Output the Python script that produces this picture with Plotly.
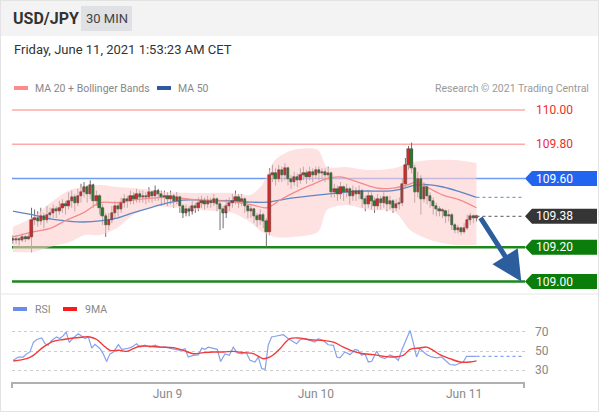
import pandas as pd
import plotly.graph_objects as go

# 30 min USD/JPY bars, first bar Jun 7 23:00
start = pd.Timestamp("2021-06-07 23:00")

opens = [109.25, 109.24, 109.25, 109.24, 109.26, 109.25, 109.26, 109.36, 109.37, 109.35,
         109.38, 109.36, 109.39, 109.40, 109.42, 109.41, 109.43, 109.45, 109.44, 109.47,
         109.49, 109.46, 109.50, 109.52, 109.55, 109.51, 109.56, 109.47, 109.50, 109.43,
         109.38, 109.33, 109.36, 109.40, 109.44, 109.42, 109.46, 109.48, 109.47, 109.50,
         109.48, 109.51, 109.49, 109.50, 109.49, 109.52, 109.50, 109.53, 109.51, 109.49,
         109.50, 109.48, 109.50, 109.47, 109.49, 109.44, 109.40, 109.42, 109.41, 109.44,
         109.43, 109.46, 109.47, 109.45, 109.47, 109.46, 109.48, 109.45, 109.42, 109.40,
         109.44, 109.46, 109.47, 109.49, 109.47, 109.48, 109.44, 109.41, 109.42, 109.38,
         109.36, 109.39, 109.35, 109.29, 109.62, 109.63, 109.60, 109.65, 109.62, 109.66,
         109.60, 109.58, 109.61, 109.59, 109.62, 109.63, 109.61, 109.64, 109.62, 109.65,
         109.63, 109.64, 109.62, 109.63, 109.52, 109.54, 109.51, 109.55, 109.52, 109.54,
         109.50, 109.53, 109.51, 109.53, 109.48, 109.45, 109.50, 109.47, 109.44, 109.48,
         109.46, 109.49, 109.45, 109.47, 109.43, 109.45, 109.46, 109.57, 109.68, 109.77,
         109.66, 109.52, 109.60, 109.48, 109.55, 109.50, 109.47, 109.44, 109.42, 109.41,
         109.41, 109.38, 109.39, 109.33, 109.30, 109.31, 109.29, 109.31, 109.36, 109.38,
         109.37]
highs = [109.27, 109.27, 109.26, 109.28, 109.27, 109.28, 109.43, 109.42, 109.41, 109.43,
         109.40, 109.44, 109.43, 109.45, 109.44, 109.47, 109.48, 109.47, 109.52, 109.53,
         109.51, 109.54, 109.57, 109.58, 109.56, 109.59, 109.57, 109.53, 109.51, 109.45,
         109.40, 109.40, 109.44, 109.47, 109.46, 109.49, 109.51, 109.50, 109.53, 109.52,
         109.54, 109.53, 109.53, 109.52, 109.55, 109.53, 109.56, 109.54, 109.53, 109.53,
         109.52, 109.53, 109.51, 109.52, 109.50, 109.45, 109.45, 109.44, 109.47, 109.46,
         109.49, 109.50, 109.49, 109.50, 109.49, 109.51, 109.49, 109.47, 109.44, 109.48,
         109.49, 109.51, 109.53, 109.51, 109.51, 109.49, 109.45, 109.45, 109.43, 109.40,
         109.42, 109.40, 109.37, 109.66, 109.68, 109.66, 109.68, 109.67, 109.69, 109.67,
         109.62, 109.64, 109.63, 109.66, 109.67, 109.65, 109.67, 109.66, 109.67, 109.67,
         109.66, 109.66, 109.67, 109.64, 109.57, 109.56, 109.58, 109.56, 109.57, 109.55,
         109.56, 109.55, 109.56, 109.54, 109.50, 109.53, 109.52, 109.49, 109.51, 109.50,
         109.52, 109.50, 109.50, 109.48, 109.48, 109.49, 109.60, 109.72, 109.79, 109.81,
         109.68, 109.64, 109.62, 109.58, 109.57, 109.52, 109.49, 109.46, 109.44, 109.43,
         109.42, 109.42, 109.40, 109.34, 109.33, 109.32, 109.34, 109.39, 109.40, 109.39,
         109.39]
lows = [109.22, 109.22, 109.21, 109.23, 109.23, 109.24, 109.17, 109.33, 109.32, 109.33,
        109.31, 109.34, 109.36, 109.37, 109.37, 109.39, 109.40, 109.39, 109.42, 109.43,
        109.41, 109.44, 109.46, 109.49, 109.46, 109.48, 109.43, 109.44, 109.39, 109.33,
        109.26, 109.30, 109.34, 109.37, 109.38, 109.40, 109.43, 109.43, 109.45, 109.45,
        109.46, 109.46, 109.46, 109.45, 109.46, 109.46, 109.47, 109.47, 109.44, 109.45,
        109.44, 109.45, 109.43, 109.45, 109.40, 109.37, 109.38, 109.38, 109.39, 109.40,
        109.41, 109.43, 109.42, 109.43, 109.43, 109.44, 109.41, 109.30, 109.31, 109.37,
        109.41, 109.43, 109.45, 109.43, 109.44, 109.40, 109.37, 109.37, 109.34, 109.32,
        109.33, 109.31, 109.20, 109.27, 109.58, 109.56, 109.58, 109.58, 109.59, 109.56,
        109.54, 109.56, 109.55, 109.57, 109.59, 109.57, 109.59, 109.58, 109.60, 109.59,
        109.60, 109.58, 109.59, 109.49, 109.49, 109.47, 109.48, 109.47, 109.49, 109.45,
        109.47, 109.47, 109.48, 109.43, 109.41, 109.43, 109.42, 109.40, 109.42, 109.42,
        109.43, 109.41, 109.42, 109.40, 109.41, 109.42, 109.44, 109.55, 109.65, 109.63,
        109.46, 109.49, 109.39, 109.46, 109.45, 109.43, 109.39, 109.38, 109.38, 109.37,
        109.34, 109.35, 109.30, 109.28, 109.28, 109.27, 109.28, 109.30, 109.33, 109.34,
        109.35]
closes = [109.24, 109.25, 109.24, 109.26, 109.25, 109.26, 109.36, 109.37, 109.35, 109.38,
          109.36, 109.39, 109.40, 109.42, 109.41, 109.43, 109.45, 109.44, 109.47, 109.49,
          109.46, 109.50, 109.52, 109.55, 109.51, 109.56, 109.47, 109.50, 109.43, 109.38,
          109.33, 109.36, 109.40, 109.44, 109.42, 109.46, 109.48, 109.47, 109.50, 109.48,
          109.51, 109.49, 109.50, 109.49, 109.52, 109.50, 109.53, 109.51, 109.49, 109.50,
          109.48, 109.50, 109.47, 109.49, 109.44, 109.40, 109.42, 109.41, 109.44, 109.43,
          109.46, 109.47, 109.45, 109.47, 109.46, 109.48, 109.45, 109.42, 109.40, 109.44,
          109.46, 109.47, 109.49, 109.47, 109.48, 109.44, 109.41, 109.42, 109.38, 109.36,
          109.39, 109.35, 109.29, 109.62, 109.63, 109.60, 109.65, 109.62, 109.66, 109.60,
          109.58, 109.61, 109.59, 109.62, 109.63, 109.61, 109.64, 109.62, 109.65, 109.63,
          109.64, 109.62, 109.63, 109.52, 109.54, 109.51, 109.55, 109.52, 109.54, 109.50,
          109.53, 109.51, 109.53, 109.48, 109.45, 109.50, 109.47, 109.44, 109.48, 109.46,
          109.49, 109.45, 109.47, 109.43, 109.45, 109.46, 109.57, 109.68, 109.77, 109.66,
          109.52, 109.60, 109.48, 109.55, 109.50, 109.47, 109.44, 109.42, 109.41, 109.41,
          109.38, 109.39, 109.33, 109.30, 109.31, 109.29, 109.31, 109.36, 109.38, 109.37,
          109.38]

# moving averages / bands, sampled at bar positions
ma20_pos = [0, 6.5, 12, 17.5, 22.7, 28.2, 33.7, 38.8, 49.8, 60.5, 71.2, 77.7, 82.2, 86.4,
            90.6, 96.1, 101.6, 105.8, 112.3, 117.8, 123, 127.5, 130.7, 134, 139.2, 144.7, 150]
ma20_val = [109.26, 109.29, 109.31, 109.36, 109.40, 109.46, 109.46, 109.475, 109.49, 109.475,
            109.465, 109.445, 109.43, 109.475, 109.515, 109.56, 109.60, 109.61, 109.575,
            109.545, 109.545, 109.563, 109.58, 109.55, 109.504, 109.475, 109.43]
ma50_pos = [0, 6.5, 12, 17.5, 22.7, 28.2, 33.7, 38.8, 44.3, 49.8, 55, 60.5, 71.2, 76.7,
            82.2, 90.6, 101.6, 112.3, 123, 130.7, 134, 139.2, 144.7, 150]
ma50_val = [109.41, 109.388, 109.365, 109.353, 109.347, 109.353, 109.37, 109.40, 109.43,
            109.457, 109.475, 109.475, 109.47, 109.463, 109.463, 109.487, 109.51, 109.527,
            109.53, 109.563, 109.565, 109.551, 109.522, 109.49]
bb_pos = [0, 6.5, 12, 18.4, 23.3, 28.2, 33.7, 38.8, 44.3, 49.8, 60.5, 71.2, 76.7, 80.6,
          84.8, 90.6, 98.7, 101.6, 107.4, 115.5, 123.6, 128.5, 135, 143, 150]
bb_upper = [109.318, 109.376, 109.458, 109.534, 109.551, 109.563, 109.551, 109.545, 109.534,
            109.522, 109.516, 109.516, 109.504, 109.563, 109.708, 109.767, 109.767, 109.668,
            109.668, 109.65, 109.662, 109.691, 109.708, 109.708, 109.691]
bb_lower = [109.172, 109.172, 109.201, 109.23, 109.271, 109.271, 109.312, 109.388, 109.434,
            109.434, 109.417, 109.40, 109.347, 109.289, 109.26, 109.26, 109.289, 109.417,
            109.446, 109.417, 109.405, 109.30, 109.242, 109.213, 109.213]

# RSI panel
rsi_pos = [0.1, 1.7, 3.3, 4.4, 5.5, 6.6, 7.7, 9.3, 10.4, 11.4, 12.5, 14.1, 15.2, 16.3, 17.2,
           18.2, 19.5, 21.1, 22.2, 23.3, 24.4, 25.5, 26.5, 28.2, 29.2, 30.3, 31.4, 32.5, 34.1,
           35.2, 36.8, 38.4, 40, 41.1, 42.7, 44.3, 46, 47.6, 49.2, 50.8, 52.4, 54, 55.7, 56.7,
           58.3, 60, 61.1, 62.1, 63.2, 64.8, 66.1, 67.2, 68.6, 70, 71.3, 72.6, 74, 75.4, 76.7,
           78.3, 79.4, 80.5, 81.6, 82.6, 83.7, 85.3, 86.4, 87.5, 89.1, 90.7, 91.8, 92.9, 94.5,
           96.1, 97.7, 98.8, 100.4, 102, 103.7, 104.8, 105.8, 107.4, 109.1, 110.7, 111.7, 112.8,
           113.9, 115, 116.1, 117.7, 118.8, 120.4, 122, 123.6, 124.7, 125.8, 127.4, 128.5,
           129.5, 130.6, 131.7, 132.8, 133.9, 135.5, 137.1, 138.7, 139.8, 141.4, 143, 144.7,
           145.7, 146.8, 148.4, 150]
rsi_val = [40.3, 43.7, 43.7, 47, 49, 59, 62, 63.5, 57.6, 56, 61, 64.6, 63, 66, 70,
           59, 63.5, 68, 65.6, 63, 64.6, 53, 57, 52.4, 47, 39, 47, 49, 56.6,
           51.7, 52.4, 54, 57.6, 54, 56, 54, 56, 54, 54, 53, 52.4, 50.7, 52.4, 43.7,
           45.5, 46, 53, 51.7, 54, 52.4, 51.7, 39, 47, 45.5, 54, 48, 47, 49, 40.3,
           38.5, 43.7, 31.6, 31, 56, 64.6, 65.6, 66, 67, 62.8, 59.3, 57.6, 61.7, 62.8,
           61, 59.3, 62.8, 61, 56.5, 55.9, 43.8, 42.8, 49, 46.2, 51.7, 50.7, 45.5,
           47.2, 38.6, 39.3, 49.7, 43.8, 42, 46, 43.8, 40.3, 50.7, 62.8, 71.4,
           59.3, 43.8, 52.4, 49.7, 46.2, 43.8, 42.8, 43.8, 40.3, 35.9, 35.2, 36.9,
           38.6, 44.5, 44.5, 44.5]
ma9_pos = [0.1, 4.4, 6.6, 9.8, 13, 16.3, 19.5, 22.8, 24.9, 27.1, 29.2, 31.4, 34.6, 36.8,
           38.9, 41.1, 44.3, 47.6, 51.9, 55.1, 58.3, 61.6, 64.8, 68.1, 71.3, 74.5, 77.8, 81,
           83.2, 85.3, 86.4, 89.6, 92.9, 96.1, 100.4, 103.7, 106.9, 110.1, 113.4, 116.6,
           119.8, 123.1, 126.3, 128.5, 131.7, 133.9, 136, 138.2, 141.4, 144.7, 147.9, 150]
ma9_val = [39.6, 42, 45.5, 54, 60, 62, 63.5, 64.6, 64.6, 62, 56, 50.7, 50.7, 49.6,
           52.4, 55, 55, 54, 53.5, 50.7, 47.2, 48.3, 49, 49, 49.6, 48.3, 47.2, 42,
           43.8, 49, 52.4, 62.8, 63.4, 61.7, 61, 59.3, 54.1, 49.7, 47.2, 46.2,
           44.5, 43.8, 45.5, 51.7, 53.1, 54.1, 50.7, 46.2, 42, 38.6, 38.6, 39.7]

red_levels = [110.00, 109.80]
blue_level = 109.60
green_levels = [109.20, 109.00]
day_ticks = ["2021-06-09", "2021-06-10", "2021-06-11"]

W, H = 599, 412
FONT = "Roboto, Arial, sans-serif"
PRICE_RANGE = [108.9388, 110.0583]


def at(pos):
    return start + pd.Timedelta(minutes=30 * pos)


def px(x):
    return x / W


def py(y):
    return 1 - y / H


bars = [at(i) for i in range(len(closes))]
x_left, x_right = at(-0.32), at(165.7)
x_end = at(165)

fig = go.Figure()

# bollinger band
fig.add_trace(go.Scatter(x=[at(p) for p in bb_pos], y=bb_lower, mode="lines",
                         line=dict(width=0, shape="spline", smoothing=0.8),
                         hoverinfo="skip"))
fig.add_trace(go.Scatter(x=[at(p) for p in bb_pos], y=bb_upper, mode="lines",
                         line=dict(width=0, shape="spline", smoothing=0.8),
                         fill="tonexty", fillcolor="rgba(253,205,205,0.6)",
                         hoverinfo="skip"))
fig.add_trace(go.Scatter(x=[at(p) for p in ma50_pos], y=ma50_val, mode="lines",
                         line=dict(color="#5f86c4", width=1.3, shape="spline")))
fig.add_trace(go.Scatter(x=[at(p) for p in ma20_pos], y=ma20_val, mode="lines",
                         line=dict(color="#f38b8b", width=1.3, shape="spline")))

# wicks on the base axes
fig.add_trace(go.Candlestick(
    x=bars, open=opens, high=highs, low=lows, close=closes,
    increasing=dict(line=dict(color="#6e6e6e", width=1), fillcolor="#6e6e6e"),
    decreasing=dict(line=dict(color="#6e6e6e", width=1), fillcolor="#6e6e6e"),
    whiskerwidth=0,
))
# coloured bodies on an overlaying pair of axes so they sit above the wicks
body_base = [min(o, c) for o, c in zip(opens, closes)]
body_len = [max(abs(c - o), 0.005) for o, c in zip(opens, closes)]
body_col = ["#d42828" if c >= o else "#2b7a2b" for o, c in zip(opens, closes)]
fig.add_trace(go.Bar(x=bars, base=body_base, y=body_len, width=30 * 60 * 1000 * 0.75,
                     marker=dict(color=body_col, line=dict(color="#4a4a4a", width=0.5)),
                     xaxis="x3", yaxis="y3"))

# extensions to the price scale
fig.add_trace(go.Scatter(x=[bars[-1], x_end], y=[ma50_val[-1]] * 2, mode="lines",
                         line=dict(color="#7d9fd6", width=1.2, dash="dot"),
                         xaxis="x3", yaxis="y3"))
fig.add_trace(go.Scatter(x=[bars[-1], x_end], y=[closes[-1]] * 2, mode="lines",
                         line=dict(color="#777777", width=1.2, dash="dot"),
                         xaxis="x3", yaxis="y3"))

# RSI panel
fig.add_trace(go.Scatter(x=[at(p) for p in rsi_pos], y=rsi_val, mode="lines",
                         line=dict(color="#85a2ee", width=1.2), xaxis="x2", yaxis="y2"))
fig.add_trace(go.Scatter(x=[at(p) for p in ma9_pos], y=ma9_val, mode="lines",
                         line=dict(color="#f23a3a", width=1.4, shape="spline"),
                         xaxis="x2", yaxis="y2"))
fig.add_trace(go.Scatter(x=[at(rsi_pos[-1]), x_end], y=[rsi_val[-1]] * 2, mode="lines",
                         line=dict(color="#85a2ee", width=1.2, dash="dot"),
                         xaxis="x2", yaxis="y2"))

shapes = []
annotations = []

# header
shapes.append(dict(type="rect", xref="paper", yref="paper", x0=0, x1=1, y0=py(36), y1=1,
                   fillcolor="#f3f3f3", line=dict(width=0), layer="below"))
shapes.append(dict(type="rect", xref="paper", yref="paper", x0=px(81), x1=px(132),
                   y0=py(31), y1=py(6), fillcolor="#dfe1e5", line=dict(width=0)))
annotations.append(dict(text="<b>USD/JPY</b>", x=px(11), y=py(19), xref="paper", yref="paper",
                        xanchor="left", yanchor="middle", showarrow=False,
                        font=dict(size=16, color="#333333")))
annotations.append(dict(text="30 MIN", x=px(106.5), y=py(19), xref="paper", yref="paper",
                        xanchor="center", yanchor="middle", showarrow=False,
                        font=dict(size=13, color="#444444")))
annotations.append(dict(text="Friday, June 11, 2021 1:53:23 AM CET", x=px(12), y=py(49),
                        xref="paper", yref="paper", xanchor="left", yanchor="middle",
                        showarrow=False, font=dict(size=13, color="#333333")))

# legends
for x0, col, label in [(14, "#ff8a8a", "MA 20 + Bollinger Bands"), (157, "#2d5aa0", "MA 50")]:
    shapes.append(dict(type="rect", xref="paper", yref="paper", x0=px(x0), x1=px(x0 + 14),
                       y0=py(90), y1=py(86), fillcolor=col, line=dict(width=0)))
    annotations.append(dict(text=label, x=px(x0 + 19), y=py(88), xref="paper", yref="paper",
                            xanchor="left", yanchor="middle", showarrow=False,
                            font=dict(size=10.5, color="#888888")))
annotations.append(dict(text="Research © 2021 Trading Central", x=px(591), y=py(88),
                        xref="paper", yref="paper", xanchor="right", yanchor="middle",
                        showarrow=False, font=dict(size=10.5, color="#999999")))
for x0, col, label in [(13, "#6b8ce8", "RSI"), (63, "#ff1a1a", "9MA")]:
    shapes.append(dict(type="rect", xref="paper", yref="paper", x0=px(x0), x1=px(x0 + 14),
                       y0=py(311), y1=py(307), fillcolor=col, line=dict(width=0)))
    annotations.append(dict(text=label, x=px(x0 + 20), y=py(309), xref="paper", yref="paper",
                            xanchor="left", yanchor="middle", showarrow=False,
                            font=dict(size=10.5, color="#888888")))

# price levels
for lv in red_levels:
    shapes.append(dict(type="line", xref="paper", yref="y", x0=px(12), x1=px(525), y0=lv, y1=lv,
                       line=dict(color="#ffaaaa", width=1.5), layer="below"))
    annotations.append(dict(text=f"{lv:.2f}", x=px(534), y=lv, xref="paper", yref="y",
                            xanchor="left", yanchor="middle", showarrow=False,
                            font=dict(size=12, color="#ee2d2d")))
shapes.append(dict(type="line", xref="paper", yref="y", x0=px(12), x1=px(525),
                   y0=blue_level, y1=blue_level, line=dict(color="#6e9cf2", width=1.5),
                   layer="below"))
for lv in green_levels:
    shapes.append(dict(type="line", xref="paper", yref="y", x0=px(12), x1=px(525), y0=lv, y1=lv,
                       line=dict(color="#1d861d", width=2.5), layer="below"))

half = 7.5 / 171.5
for lv, col in [(blue_level, "#2264f0"), (closes[-1], "#353535"),
                (green_levels[0], "#0b7d0b"), (green_levels[1], "#0b7d0b")]:
    path = (f"M {px(525)},{lv} L {px(532)},{lv + half} L {px(597)},{lv + half} "
            f"L {px(597)},{lv - half} L {px(532)},{lv - half} Z")
    shapes.append(dict(type="path", xref="paper", yref="y", path=path,
                       fillcolor=col, line=dict(width=0)))
    annotations.append(dict(text=f"{lv:.2f}", x=px(534), y=lv, xref="paper", yref="y",
                            xanchor="left", yanchor="middle", showarrow=False,
                            font=dict(size=12, color="white")))

# target arrow
annotations.append(dict(x=at(164.5), y=green_levels[1], ax=at(151), ay=closes[-1],
                        xref="x", yref="y", axref="x", ayref="y", text="",
                        showarrow=True, arrowhead=2, arrowsize=1.2, arrowwidth=5,
                        arrowcolor="#2c5e9e"))

# separators, axis brackets, frame
shapes.append(dict(type="line", xref="paper", yref="paper", x0=0, x1=1, y0=py(294), y1=py(294),
                   line=dict(color="#e6e6e6", width=1)))
for xb in (12, 524):
    shapes.append(dict(type="line", xref="paper", yref="paper", x0=px(xb), x1=px(xb),
                       y0=py(382), y1=py(388), line=dict(color="#b0b0b0", width=2)))
shapes.append(dict(type="rect", xref="paper", yref="paper", x0=0, x1=1, y0=0, y1=1,
                   line=dict(color="#e3e3e3", width=2)))

fig.update_layout(
    width=W, height=H, autosize=False,
    margin=dict(l=0, r=0, t=0, b=0),
    paper_bgcolor="white", plot_bgcolor="rgba(0,0,0,0)",
    showlegend=False, hovermode=False, bargap=0,
    font=dict(family=FONT, color="#888888"),
    shapes=shapes, annotations=annotations,
    xaxis=dict(domain=[px(12), px(525)], range=[x_left, x_right], visible=False,
               rangeslider=dict(visible=False)),
    yaxis=dict(domain=[py(292), py(100)], range=PRICE_RANGE, visible=False),
    xaxis3=dict(overlaying="x", matches="x", range=[x_left, x_right], visible=False),
    yaxis3=dict(overlaying="y", range=PRICE_RANGE, visible=False),
    xaxis2=dict(domain=[px(12), px(525)], range=[x_left, x_right], anchor="y2",
                matches="x", showline=True, linecolor="#b0b0b0", linewidth=2,
                showgrid=False, ticks="", tickvals=day_ticks,
                ticktext=["Jun 9", "Jun 10", "Jun 11"],
                tickfont=dict(size=12, color="#888888")),
    yaxis2=dict(domain=[py(382), py(318)], range=[17.71, 84.38], anchor="x2", side="right",
                tickvals=[30, 50, 70], showgrid=True, gridcolor="#cccccc", griddash="dot",
                zeroline=False, showline=False, ticks="", ticklabelstandoff=9,
                tickfont=dict(size=12, color="#888888")),
)

# the page body has a default 8px margin; drop it so the figure sits at the origin
fig.write_html("out.html", config={"displayModeBar": False},
               post_script="document.body.style.margin='0';")
